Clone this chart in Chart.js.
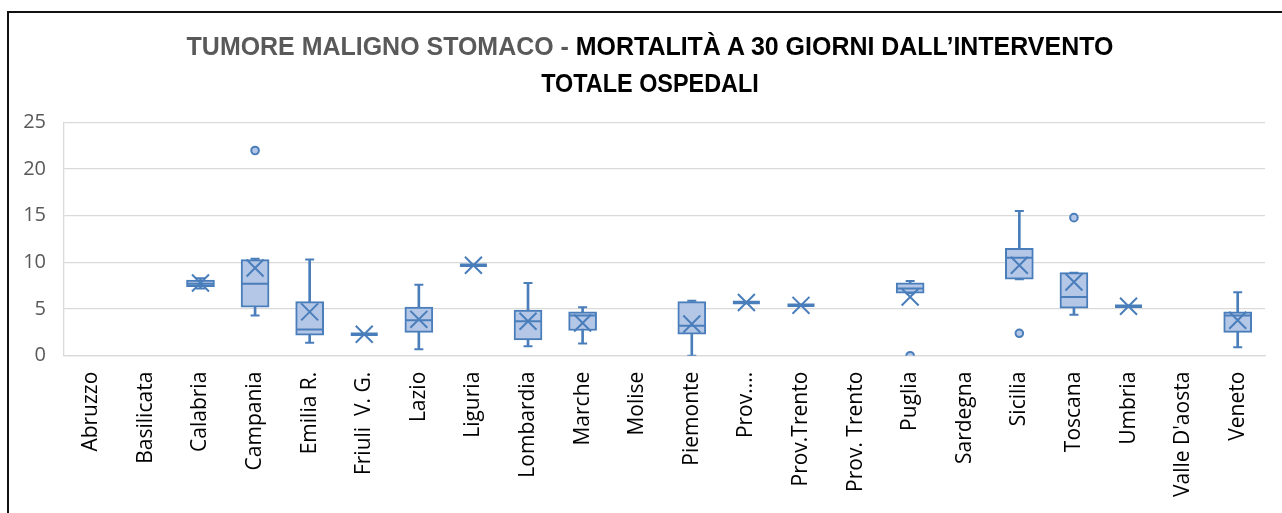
<!DOCTYPE html>
<html>
<head>
<meta charset="utf-8">
<script src="https://cdn.jsdelivr.net/npm/chart.js"></script>
<style>
  html, body { margin: 0; padding: 0; background: #fff; overflow: hidden; }
  #wrap { position: relative; width: 1282px; height: 513px; }
  #frame { position: absolute; left: 7px; top: 11px; width: 1400px; height: 600px; border-left: 2px solid #111; border-top: 2px solid #111; }
  .t { position: absolute; left: 0; width: 1300px; text-align: center; font-family: 'Liberation Sans Narrow', 'Arial Narrow', 'Liberation Sans', sans-serif; font-weight: bold; font-size: 26px; line-height: 26px; color: #000; white-space: nowrap; transform-origin: 650px 0; }
  .t .g { color: #595959; }
  #t1 { top: 33px; transform: scaleX(0.96); }
  #t2 { top: 70px; transform: scaleX(0.9); }
  canvas { position: absolute; left: 0; top: 0; }
</style>
</head>
<body>
<div id="wrap">
  <div id="frame"></div>
  <canvas id="c" width="1282" height="513"></canvas>
  <div class="t" id="t1"><span class="g">TUMORE MALIGNO STOMACO - </span>MORTALITÀ A 30 GIORNI DALL’INTERVENTO</div>
  <div class="t" id="t2">TOTALE OSPEDALI</div>
</div>
<script>
const categories = ['Abruzzo','Basilicata','Calabria','Campania','Emilia R.','Friuli  V. G.','Lazio','Liguria','Lombardia','Marche','Molise','Piemonte','Prov....','Prov.Trento','Prov. Trento','Puglia','Sardegna','Sicilia','Toscana','Umbria','Valle D\'aosta','Veneto'];
const minVals    = [null, null, 7.2, 4.3, 1.4, 2.3, 0.7, 9.7, 1.0, 1.3, null, 0.0, 5.7, 5.4, null, 6.7, null, 8.2, 4.4, 5.3, null, 0.9];
const q1Vals     = [null, null, 7.4, 5.2, 2.2, 2.3, 2.5, 9.7, 1.7, 2.7, null, 2.3, 5.7, 5.4, null, 6.7, null, 8.2, 5.1, 5.3, null, 2.5];
const medianVals = [null, null, 7.7, 7.7, 2.8, 2.3, 3.8, 9.7, 3.7, 4.3, null, 3.2, 5.7, 5.4, null, 7.2, null,10.5, 6.3, 5.3, null, 4.3];
const q3Vals     = [null, null, 8.1,10.3, 5.8, 2.3, 5.2, 9.7, 4.9, 4.7, null, 5.8, 5.7, 5.4, null, 7.8, null,11.5, 8.9, 5.3, null, 4.7];
const maxVals    = [null, null, 8.3,10.4,10.3, 2.3, 7.6, 9.7, 7.8, 5.2, null, 5.9, 5.7, 5.4, null, 8.0, null,15.5, 8.9, 5.3, null, 6.8];
const meanVals   = [null, null, 7.8, 9.4, 4.7, 2.3, 3.9, 9.7, 3.7, 3.5, null, 3.4, 5.7, 5.4, null, 6.3, null, 9.7, 7.9, 5.3, null, 3.8];
const outlierVals= [null, null, null,22.0, null, null, null, null, null, null, null, null, null, null, null, 0.0, null, 2.4,14.8, null, null, null];
const yTicks = [0, 5, 10, 15, 20, 25];

const BLUE = '#4A7EBB';
const FILL = '#B4C7E7';

const whiskerData = categories.map((c, i) => minVals[i] == null ? null : [minVals[i], maxVals[i]]);
const boxData = categories.map((c, i) => q1Vals[i] == null ? null : [q1Vals[i], q3Vals[i]]);

const pointBase = { type: 'line', showLine: false, pointHoverRadius: 0 };

new Chart(document.getElementById('c'), {
  data: {
    labels: categories,
    datasets: [
      { type: 'bar', label: 'whisker', data: whiskerData, backgroundColor: BLUE, barThickness: 2, grouped: false, order: 6 },
      { type: 'bar', label: 'box', data: boxData, backgroundColor: FILL, borderColor: BLUE, borderWidth: 2, borderSkipped: false, barThickness: 28, grouped: false, order: 5 },
      Object.assign({}, pointBase, { label: 'min', data: minVals, pointStyle: 'line', pointRadius: 4.5, pointBorderWidth: 2, pointBorderColor: BLUE, order: 4 }),
      Object.assign({}, pointBase, { label: 'max', data: maxVals, pointStyle: 'line', pointRadius: 4.5, pointBorderWidth: 2, pointBorderColor: BLUE, order: 4 }),
      Object.assign({}, pointBase, { label: 'median', data: medianVals, pointStyle: 'line', pointRadius: 13.5,
        pointBorderWidth: ctx => (q1Vals[ctx.dataIndex] === q3Vals[ctx.dataIndex] ? 3.5 : 2), pointBorderColor: BLUE, order: 3 }),
      Object.assign({}, pointBase, { label: 'mean', data: meanVals, pointStyle: 'crossRot', pointRadius: 12, pointBorderWidth: 2, pointBorderColor: BLUE, order: 2 }),
      Object.assign({}, pointBase, { label: 'outlier', data: outlierVals, pointStyle: 'circle', pointRadius: 3.8, pointBorderWidth: 2, pointBorderColor: BLUE, pointBackgroundColor: FILL, order: 1 })
    ]
  },
  options: {
    responsive: false,
    animation: false,
    events: [],
    layout: { padding: { top: 122.5, right: 7, left: 0, bottom: 0 } },
    plugins: { legend: { display: false }, tooltip: { enabled: false }, title: { display: false } },
    scales: {
      x: {
        type: 'category', offset: true,
        grid: { display: false, drawTicks: false },
        border: { display: true, color: '#d9d9d9', width: 1.3 },
        ticks: { autoSkip: false, maxRotation: 90, minRotation: 90, padding: 16, color: '#000', font: { family: 'Open Sans', size: 21 } },
        afterFit: s => { s.height = 157.3; }
      },
      y: {
        min: 0, max: 25,
        afterBuildTicks: s => { s.ticks = yTicks.map(v => ({ value: v })); },
        ticks: { padding: 18, color: '#595959', font: { family: 'Open Sans', size: 20 } },
        grid: { color: '#d9d9d9', lineWidth: 1.3, drawTicks: false },
        border: { display: true, color: '#d9d9d9', width: 1.3 },
        afterFit: s => { s.width = 64; }
      }
    }
  }
});
</script>
</body>
</html>
